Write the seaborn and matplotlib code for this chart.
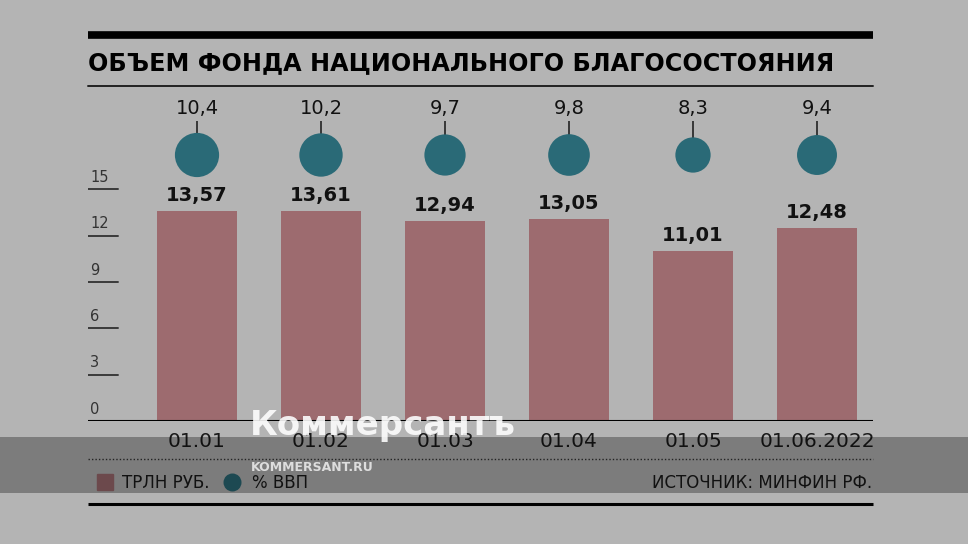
import matplotlib
matplotlib.use("Agg")
import matplotlib.pyplot as plt
import matplotlib.transforms as mtransforms
from matplotlib.patches import Rectangle
import pandas as pd
import seaborn as sns

# chart data
dates = ["01.01", "01.02", "01.03", "01.04", "01.05", "01.06.2022"]
trln_rub = [13.57, 13.61, 12.94, 13.05, 11.01, 12.48]
pct_gdp = [10.4, 10.2, 9.7, 9.8, 8.3, 9.4]
y_ticks = [0, 3, 6, 9, 12, 15]

title = "ОБЪЕМ ФОНДА НАЦИОНАЛЬНОГО БЛАГОСОСТОЯНИЯ"
source = "ИСТОЧНИК: МИНФИН РФ."

BG = "#b4b4b4"
BAR = "#9d6b6f"
DOT = "#2a6a77"

sns.set_style("white")
plt.rcParams["font.family"] = ["DejaVu Sans"]


def fmt(v):
    return f"{v:.2f}".replace(".", ",") if v >= 11 else f"{v:.1f}".replace(".", ",")


W, H = 968, 544
fig = plt.figure(figsize=(W / 100, H / 100), dpi=100, facecolor=BG)

# main plot area: x 88..873 px, baseline at 421 px, 15.45 px per unit
px_unit = 15.45
top_px = 90
ax = fig.add_axes([88 / W, (H - 421) / H, (873 - 88) / W, (421 - top_px) / H])
ax.set_facecolor("none")

df = pd.DataFrame({"date": dates, "value": trln_rub, "pct": pct_gdp})
sns.barplot(data=df, x="date", y="value", color=BAR, saturation=1, width=0.64,
            linewidth=0, edgecolor="none", ax=ax, zorder=2)
ax.set_xlim(-(197 - 88) / 124, (873 - 197) / 124)
ax.set_ylim(0, (421 - top_px) / px_unit)
ax.set_xlabel("")
ax.set_ylabel("")
ax.set_xticks([])
ax.set_yticks([])
for s in ax.spines.values():
    s.set_visible(False)
ax.axhline(0, color="black", lw=1.5, zorder=3)

# y tick marks drawn as short lines with labels above
tr = mtransforms.blended_transform_factory(ax.transAxes, ax.transData)
for t in y_ticks[1:]:
    ax.plot([0, 30 / 785], [t, t], transform=tr, color="#3a3a3a", lw=1.4)
for t in y_ticks:
    ax.annotate(str(t), (0, t), xycoords=tr, xytext=(1.5, 3), textcoords="offset points",
                ha="left", va="bottom", fontsize=10.5, color="#333333")

# bar values and date labels
for i, (d, v) in enumerate(zip(dates, trln_rub)):
    ax.annotate(fmt(v), (i, v), xytext=(0, 7.2), textcoords="offset points",
                ha="center", va="baseline", fontsize=14, fontweight="bold", color="#111111")
    ax.annotate(d, (i, 0), xytext=(0, -26 * 0.72), textcoords="offset points",
                ha="center", va="baseline", fontsize=14.5, color="#1a1a1a")

# % GDP circles
dot_y = (421 - 155) / px_unit
lab_y = (421 - 116) / px_unit
sizes = [(p * 4.25 * 0.72) ** 2 for p in pct_gdp]
ax.scatter(range(len(pct_gdp)), [dot_y] * len(pct_gdp), s=sizes, color=DOT,
           zorder=4, linewidths=0)
ax.vlines(range(len(pct_gdp)), dot_y, lab_y - 0.35, color="#222222", lw=1.2, zorder=3)
for i, p in enumerate(pct_gdp):
    ax.text(i, lab_y + 0.15, fmt(p), ha="center", va="baseline", fontsize=14, color="#111111")

# decorations layer in pixel coordinates
deco = fig.add_axes([0, 0, 1, 1], zorder=5)
deco.set_facecolor("none")
deco.set_xlim(0, W)
deco.set_ylim(H, 0)
deco.axis("off")

deco.plot([88, 873], [35, 35], color="black", lw=5.5, solid_capstyle="butt")
deco.plot([88, 873], [86, 86], color="#222222", lw=1.4)
deco.text(88, 70, title, fontsize=17.2, fontweight="bold", color="black",
          ha="left", va="baseline")
deco.plot([88, 873], [459, 459], color="#333333", lw=1, ls=(0, (1, 1.5)))
deco.plot([88, 873], [504, 504], color="black", lw=2.2, solid_capstyle="butt")

# legend
deco.add_patch(Rectangle((97, 474), 16, 16, color=BAR))
deco.text(122, 488, "ТРЛН РУБ.", fontsize=12, color="#1a1a1a", va="baseline")
deco.scatter([232], [482], s=(18 * 0.72) ** 2, color=DOT, linewidths=0)
deco.text(252, 488, "% ВВП", fontsize=12, color="#1a1a1a", va="baseline")
deco.text(872, 488, source, fontsize=12, color="#1a1a1a", va="baseline", ha="right")

# watermark band overlay
deco.add_patch(Rectangle((0, 437), W, 56, color="black", alpha=0.31, zorder=10, lw=0))
deco.text(250, 435, "Коммерсантъ", fontsize=24.5, fontweight="bold", color="white",
          alpha=0.88, va="baseline", ha="left", zorder=11)
deco.text(251, 471, "KOMMERSANT.RU", fontsize=9, fontweight="bold", color="#dddddd",
          va="baseline", ha="left", zorder=11)

fig.savefig("out.png", dpi=100, facecolor=BG)
